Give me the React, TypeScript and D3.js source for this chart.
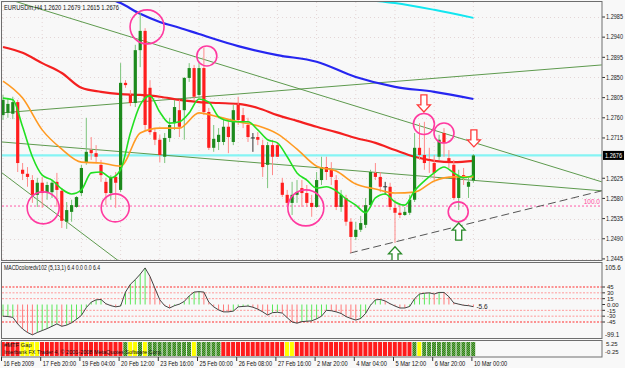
import React from "react";
import * as d3 from "d3";

const W = 625;
const H = 368;

// H4 bars, 16 Feb 2009 .. 10 Mar 2009 00:00
const opens = [
  1.2766, 1.2771, 1.2769, 1.2795, 1.2644, 1.2635, 1.2621, 1.2588, 1.2615, 1.2594,
  1.2594, 1.2617, 1.2597, 1.2528, 1.255, 1.2561, 1.2592, 1.2661, 1.2688, 1.2681,
  1.2655, 1.2617, 1.2592, 1.2628, 1.2599, 1.2838, 1.2811, 1.2793, 1.2911, 1.2954,
  1.2827, 1.2728, 1.2711, 1.2673, 1.2715, 1.2748, 1.2777, 1.2777, 1.2849, 1.2871,
  1.2811, 1.2871, 1.2773, 1.2693, 1.2706, 1.2706, 1.274, 1.2706, 1.2789, 1.2766,
  1.2744, 1.2715, 1.2717, 1.2699, 1.2655, 1.2699, 1.2699, 1.2615, 1.2588, 1.257,
  1.2588, 1.2603, 1.2592, 1.257, 1.2561, 1.2621, 1.265, 1.2644, 1.2621, 1.2561,
  1.2581, 1.2528, 1.2494, 1.251, 1.2521, 1.2565, 1.2637, 1.2628, 1.2606, 1.2606,
  1.2559, 1.2548, 1.2543, 1.2548, 1.2577, 1.2693, 1.2677, 1.2668, 1.2659, 1.2673,
  1.2726, 1.267, 1.2655, 1.2581, 1.2632, 1.2606, 1.262,
];
const highs = [
  1.2811, 1.2804, 1.2807, 1.28, 1.2659, 1.265, 1.2632, 1.2626, 1.2628, 1.2617,
  1.2621, 1.2637, 1.2603, 1.2572, 1.2577, 1.2585, 1.2655, 1.276, 1.2717, 1.2699,
  1.2666, 1.2626, 1.2632, 1.2639, 1.2882, 1.2844, 1.2822, 1.2923, 1.2994, 1.296,
  1.2844, 1.2737, 1.2722, 1.2726, 1.276, 1.28, 1.28, 1.2851, 1.2882, 1.2878,
  1.2885, 1.2916, 1.2782, 1.2744, 1.2737, 1.2755, 1.2755, 1.2789, 1.2807, 1.2782,
  1.276, 1.2726, 1.2728, 1.2711, 1.2706, 1.2711, 1.2704, 1.2626, 1.2599, 1.2617,
  1.2621, 1.2621, 1.261, 1.2588, 1.2639, 1.2673, 1.2673, 1.2661, 1.2632, 1.2599,
  1.2588, 1.2536, 1.2528, 1.2541, 1.2581, 1.2644, 1.2659, 1.2639, 1.2617, 1.2615,
  1.2577, 1.2565, 1.2561, 1.2588, 1.2726, 1.2748, 1.2751, 1.2693, 1.2677, 1.2722,
  1.2737, 1.2688, 1.2666, 1.2644, 1.2648, 1.2626, 1.2679,
];
const lows = [
  1.2755, 1.276, 1.2757, 1.2639, 1.2621, 1.2606, 1.257, 1.2561, 1.2559, 1.2577,
  1.2581, 1.2561, 1.2514, 1.2512, 1.2528, 1.2559, 1.2585, 1.2655, 1.2666, 1.2661,
  1.2617, 1.2565, 1.2577, 1.2559, 1.2594, 1.2827, 1.2786, 1.2784, 1.2873, 1.2733,
  1.2722, 1.2699, 1.2661, 1.2659, 1.2706, 1.2733, 1.2717, 1.2711, 1.284, 1.28,
  1.2804, 1.2766, 1.2688, 1.2684, 1.2688, 1.2699, 1.2681, 1.2699, 1.2744, 1.2737,
  1.2706, 1.2684, 1.2699, 1.2628, 1.2603, 1.2632, 1.2673, 1.2583, 1.2565, 1.2543,
  1.257, 1.2561, 1.2561, 1.2539, 1.2559, 1.261, 1.2621, 1.261, 1.2554, 1.255,
  1.2519, 1.2458, 1.2487, 1.2505, 1.2514, 1.2559, 1.2621, 1.2594, 1.2588, 1.2554,
  1.2481, 1.2536, 1.2541, 1.2543, 1.2572, 1.2666, 1.2644, 1.2637, 1.2621, 1.2666,
  1.2673, 1.2648, 1.2577, 1.2554, 1.261, 1.2581, 1.2615,
];
const closes = [
  1.28, 1.2791, 1.2795, 1.2659, 1.2635, 1.2628, 1.2588, 1.2615, 1.2592, 1.261,
  1.2615, 1.2599, 1.253, 1.2554, 1.2565, 1.2583, 1.2648, 1.2684, 1.2681, 1.2673,
  1.2632, 1.2592, 1.2626, 1.2615, 1.2838, 1.2833, 1.2793, 1.2911, 1.2954, 1.2744,
  1.2728, 1.2711, 1.2677, 1.2715, 1.2744, 1.2784, 1.274, 1.2849, 1.2871, 1.2807,
  1.2871, 1.2773, 1.2693, 1.2713, 1.2722, 1.274, 1.2717, 1.2777, 1.2755, 1.2751,
  1.2717, 1.2715, 1.2711, 1.265, 1.2699, 1.2673, 1.2673, 1.2588, 1.257, 1.2588,
  1.2594, 1.2592, 1.257, 1.2561, 1.2621, 1.265, 1.2639, 1.2628, 1.2561, 1.2588,
  1.2528, 1.2494, 1.251, 1.2525, 1.2565, 1.2639, 1.2628, 1.2606, 1.2606, 1.2561,
  1.2548, 1.2543, 1.255, 1.2577, 1.2693, 1.2677, 1.2659, 1.2664, 1.2637, 1.2711,
  1.2704, 1.2659, 1.2581, 1.2628, 1.2626, 1.2617, 1.2676,
];

// moving averages
const greenMA = [
  1.2804, 1.28, 1.274, 1.2673, 1.2632, 1.2621, 1.2601, 1.259, 1.2599, 1.2637,
  1.2639, 1.2626, 1.2644, 1.2726, 1.2789, 1.2809, 1.2773, 1.2748, 1.2751, 1.2771,
  1.2802, 1.2795, 1.2762, 1.2753, 1.2751, 1.2751, 1.2733, 1.2711, 1.2704, 1.2673,
  1.2637, 1.2621, 1.2603, 1.2606, 1.2597, 1.2579, 1.2565, 1.2548, 1.2581, 1.259,
  1.2572, 1.2565, 1.2597, 1.2619, 1.2637, 1.265, 1.2637, 1.2626, 1.2632,
];
const orangeMA = [
  1.2842, 1.2804, 1.2733, 1.269, 1.2661, 1.2659, 1.2652, 1.2726, 1.2737, 1.2737,
  1.2771, 1.2762, 1.2751, 1.2742, 1.2724, 1.269, 1.2652, 1.2641, 1.2612, 1.2601,
  1.2592, 1.2594, 1.2619, 1.2628, 1.2628,
];
const redMA = [
  1.2918, 1.2905, 1.2882, 1.286, 1.2827, 1.2818, 1.2813, 1.2811, 1.2807, 1.28,
  1.2795, 1.2793, 1.2791, 1.2782, 1.2766, 1.2753, 1.274, 1.2728, 1.2715, 1.2704,
  1.2688, 1.2673, 1.2664, 1.2661, 1.2664,
];
const blueBars = [22, 24, 28, 32, 36, 40, 48, 56, 64, 72, 80, 88, 96];
const blueMA = [1.3025, 1.3016, 1.2992, 1.2974, 1.2961, 1.2947, 1.292, 1.29, 1.2885, 1.2851, 1.2829, 1.2818, 1.2802];
const cyanBars = [76, 80, 88, 96];
const cyanMA = [1.3021, 1.3016, 1.3001, 1.2983];

// drawn objects (bar index, price)
const trendLines = [
  [[-0.2, 1.3029], [122.2, 1.2617]],
  [[-0.2, 1.2771], [122.2, 1.2878]],
  [[-0.2, 1.2706], [122.2, 1.2597]],
  [[-0.2, 1.2637], [23.9, 1.2438]],
];
const supportLine = [[70.8, 1.2458], [122.2, 1.2597]];
const circleBars = [29.4, 41.6, 8.2, 22.9, 61.8, 85.9, 90, 92.9];
const circlePrices = [1.2963, 1.2898, 1.2559, 1.2559, 1.2559, 1.2746, 1.2726, 1.255];
const circleRadii = [17, 10, 16, 14, 18, 10.5, 10, 10];
const downArrowBars = [85.9, 96.1];
const downArrowPrices = [1.2773, 1.2695];
const upArrowBars = [80, 93];
const upArrowPrices = [1.2472, 1.2525];

const priceTicks = [1.2985, 1.294, 1.2895, 1.285, 1.2805, 1.276, 1.2715, 1.2625, 1.258, 1.2535, 1.249, 1.2445];
const lastPrice = 1.2676;
const fibLevel = 1.2563;

const timeLabels = [
  "16 Feb 2009", "17 Feb 20:00", "19 Feb 04:00", "20 Feb 12:00", "23 Feb 16:00",
  "25 Feb 00:00", "26 Feb 08:00", "27 Feb 16:00", "2 Mar 20:00", "4 Mar 04:00",
  "5 Mar 12:00", "6 Mar 20:00", "10 Mar 00:00",
];

const macd = [
  -30, -31, -33, -50, -63, -72, -78, -72, -67, -62,
  -56, -50, -56, -53, -47, -38, -28, -8, 6, 12,
  13, 2, -3, -6, -4, 32, 52, 64, 78, 94,
  72, 42, 12, -3, -9, -3, 1, 8, 22, 32,
  33, 32, 6, -6, -14, -19, -19, -17, -6, -5,
  -4, -7, -12, -19, -27, -21, -20, -22, -34, -45,
  -48, -44, -43, -42, -37, -30, -15, -16, -19, -23,
  -31, -36, -40, -36, -23, -2, 12, 13, 9, 2,
  -4, -9, -9, -5, 15, 27, 29, 30, 27, 31,
  31, 20, 4, 1, -2, -3, -5.6,
];
const macdLevels = [45, 30, 15, -15, -30, -45];

const gapColors =
  "rrrr" + "yyyy" + "rrrrrrrrrrrrrrrrr" + "g" + "yy" + "g" + "y" + "ggggggggg" + "y" +
  "ggggg" + "rrrrrrrrrrrrr" + "yy" + "rrrrrrrrrrrrrrrrrrrrrrrr" + "g" + "y" + "ggggggggggg";

const FONT = "Liberation Sans, Arial, sans-serif";

export default function App() {
  const x = d3.scaleLinear().domain([0, 96]).range([3, 473.4]);
  const yP = d3.scaleLinear().domain([1.2445, 1.2985]).range([258.9, 17]);
  const yM = d3.scaleLinear().domain([-45, 45]).range([322, 287]);

  const maLine = (bars: number[]) =>
    d3
      .line<number>()
      .x((_, k) => x(bars[k]))
      .y((v) => yP(v))
      .curve(d3.curveMonotoneX);

  const bars2 = d3.range(0, 97, 2);
  const bars4 = d3.range(0, 97, 4);
  const labelBars = d3.range(0, 97, 8);

  const macdPath = d3
    .line<number>()
    .x((_, i) => x(i))
    .y((v) => yM(v))(macd);

  const arrowDown = (cx: number, ty: number) =>
    `M${cx - 3},${ty - 17} L${cx + 3},${ty - 17} L${cx + 3},${ty - 7} L${cx + 6.5},${ty - 7} L${cx},${ty} L${cx - 6.5},${ty - 7} L${cx - 3},${ty - 7} Z`;
  const arrowUp = (cx: number, ty: number) =>
    `M${cx - 3},${ty + 17} L${cx + 3},${ty + 17} L${cx + 3},${ty + 7} L${cx + 6.5},${ty + 7} L${cx},${ty} L${cx - 6.5},${ty + 7} L${cx - 3},${ty + 7} Z`;

  const gapFill: Record<string, string> = { r: "#ff1c1c", y: "#ffff00", g: "url(#hatch)" };

  return (
    <div style={{ position: "absolute", left: 0, top: 0 }}>
      <svg width={W} height={H} style={{ display: "block", background: "#f8f8f8" }} fontFamily={FONT}>
        <defs>
          <clipPath id="mainClip">
            <rect x={2} y={2} width={600} height={258} />
          </clipPath>
          <clipPath id="macdClip">
            <rect x={2} y={263} width={600} height={75} />
          </clipPath>
          <pattern id="hatch" width={2} height={2} patternUnits="userSpaceOnUse">
            <rect width={2} height={2} fill="#2f7a22" />
            <rect width={1} height={1} fill="#6bb04a" />
            <rect x={1} y={1} width={1} height={1} fill="#6bb04a" />
          </pattern>
        </defs>

        {/* grid */}
        <g stroke="#e4d6d6" strokeDasharray="1 3" strokeWidth={1}>
          {priceTicks.map((t) => (
            <line key={t} x1={2} x2={602} y1={Math.round(yP(t)) + 0.5} y2={Math.round(yP(t)) + 0.5} />
          ))}
          {labelBars.map((b) => (
            <line key={b} x1={x(b)} x2={x(b)} y1={2} y2={260} />
          ))}
        </g>

        {/* main panel */}
        <g clipPath="url(#mainClip)">
          <line x1={2} x2={602} y1={yP(lastPrice)} y2={yP(lastPrice)} stroke="#86f4f4" strokeWidth={2.2} />
          <line x1={2} x2={602} y1={yP(fibLevel)} y2={yP(fibLevel)} stroke="#ff5aa8" strokeWidth={1} strokeDasharray="2 2" />
          {trendLines.map((tl, k) => (
            <line key={k} x1={x(tl[0][0])} y1={yP(tl[0][1])} x2={x(tl[1][0])} y2={yP(tl[1][1])} stroke="#5e9a4e" strokeWidth={1} />
          ))}
          <line
            x1={x(supportLine[0][0])}
            y1={yP(supportLine[0][1])}
            x2={x(supportLine[1][0])}
            y2={yP(supportLine[1][1])}
            stroke="#555"
            strokeWidth={1}
            strokeDasharray="8 4"
          />
          <path d={maLine(cyanBars)(cyanMA) || ""} fill="none" stroke="#12e6f0" strokeWidth={2} />
          <path d={maLine(blueBars)(blueMA) || ""} fill="none" stroke="#2626f0" strokeWidth={2.2} />
          <path d={maLine(bars4)(redMA) || ""} fill="none" stroke="#f42020" strokeWidth={2.2} />

          {opens.map((o, i) => {
            const c = closes[i];
            const cx = x(i);
            const up = c > o;
            const flat = c === o;
            const top = yP(Math.max(o, c));
            const bot = yP(Math.min(o, c));
            return (
              <g key={i}>
                <line
                  x1={cx}
                  x2={cx}
                  y1={yP(highs[i])}
                  y2={yP(lows[i])}
                  stroke={flat ? "#333" : up ? "#7cc47c" : "#ff8a8a"}
                  strokeWidth={1}
                />
                {flat ? (
                  <line x1={cx - 2} x2={cx + 2} y1={top} y2={top} stroke="#333" />
                ) : (
                  <rect x={cx - 1.6} y={top} width={3.2} height={Math.max(1, bot - top)} fill={up ? "#1d8a1d" : "#ff1e1e"} />
                )}
              </g>
            );
          })}

          <path d={maLine(bars4)(orangeMA) || ""} fill="none" stroke="#ff9a22" strokeWidth={1.6} />
          <path d={maLine(bars2)(greenMA) || ""} fill="none" stroke="#22e022" strokeWidth={1.6} />

          {circleBars.map((b, k) => (
            <circle key={k} cx={x(b)} cy={yP(circlePrices[k])} r={circleRadii[k]} fill="none" stroke="#ff3aa0" strokeWidth={1.6} />
          ))}
          {downArrowBars.map((b, k) => (
            <path key={k} d={arrowDown(x(b), yP(downArrowPrices[k]))} fill="#fff" stroke="#ff3a3a" strokeWidth={1.3} />
          ))}
          {upArrowBars.map((b, k) => (
            <path key={k} d={arrowUp(x(b), yP(upArrowPrices[k]))} fill="#fff" stroke="#2a8a2a" strokeWidth={1.3} />
          ))}
          <text x={600} y={yP(fibLevel) - 2} fontSize={6.5} fill="#ff4aa0" textAnchor="end">
            100.0
          </text>
        </g>

        <text x={4} y={10} fontSize={7.2} fill="#111" textLength={115} lengthAdjust="spacingAndGlyphs">
          EURUSDm,H4 1.2620 1.2679 1.2615 1.2676
        </text>

        {/* price axis */}
        {priceTicks.map((t) => (
          <g key={t}>
            <line x1={602} x2={605} y1={yP(t)} y2={yP(t)} stroke="#333" />
            <text x={606} y={yP(t) + 2.3} fontSize={6.3} fill="#222" textLength={17} lengthAdjust="spacingAndGlyphs">
              {t.toFixed(4)}
            </text>
          </g>
        ))}
        <rect x={603} y={yP(lastPrice) - 4.5} width={21} height={9} fill="#000" />
        <text x={605} y={yP(lastPrice) + 2.3} fontSize={6.3} fill="#fff" textLength={17} lengthAdjust="spacingAndGlyphs">
          {lastPrice.toFixed(4)}
        </text>

        {/* MACD panel */}
        <g clipPath="url(#macdClip)">
          {macdLevels.map((l) => (
            <line
              key={l}
              x1={2}
              x2={602}
              y1={yM(l)}
              y2={yM(l)}
              stroke={Math.abs(l) === 45 ? "#ff2c2c" : "#ff9a9a"}
              strokeDasharray="2 1.5"
              strokeWidth={1}
            />
          ))}
          {macd.map((v, i) => (
            <line
              key={i}
              x1={x(i)}
              x2={x(i)}
              y1={yM(0)}
              y2={yM(v)}
              stroke={i < 3 || v > macd[i - 1] ? "#5ae85a" : "#ff7a7a"}
              strokeWidth={1}
            />
          ))}
          <path d={macdPath || ""} fill="none" stroke="#444" strokeWidth={1} />
        </g>
        <text x={4} y={270} fontSize={6.8} fill="#111" textLength={96} lengthAdjust="spacingAndGlyphs">
          MACDcoloredv102 (5,13,1) 6.4 0.0 0.0 6.4
        </text>
        <text x={x(96) + 3} y={yM(-5.6) + 2.5} fontSize={6.5} fill="#222">
          -5.6
        </text>
        {[...macdLevels, 0].map((l) => (
          <g key={l}>
            <line x1={602} x2={605} y1={yM(l)} y2={yM(l)} stroke="#333" />
            <text x={607} y={yM(l) + 2.2} fontSize={6} fill="#222">
              {l === 0 ? "0.00" : String(l)}
            </text>
          </g>
        ))}
        <text x={605} y={270} fontSize={6.3} fill="#222">105.6</text>
        <text x={605} y={337} fontSize={6.3} fill="#222">-99.1</text>

        {/* gap panel */}
        {gapColors.split("").map((c, i) => (
          <rect key={i} x={x(i) - 2.2} y={342} width={4} height={14} fill={gapFill[c]} />
        ))}
        <text x={4} y={347} fontSize={5.8} fill="#111">#MTF Gap</text>
        <text x={4} y={353.5} fontSize={5.8} fill="#111" textLength={158} lengthAdjust="spacingAndGlyphs">
          Interbank FX Trader 4, © 2001-2008 MetaQuotes Software Corp.
        </text>
        <text x={606} y={346} fontSize={6} fill="#222">5.25</text>
        <text x={605} y={354} fontSize={6} fill="#222">-0.25</text>

        {/* panel frames */}
        <g fill="none" stroke="#6e6e6e" strokeWidth={1}>
          <rect x={1.5} y={1.5} width={600.5} height={259} />
          <rect x={1.5} y={262.5} width={600.5} height={76} />
          <rect x={1.5} y={340.5} width={600.5} height={16.5} />
        </g>

        {/* time axis */}
        {timeLabels.map((lab, k) => (
          <g key={lab}>
            <line x1={x(labelBars[k]) - 1.5} x2={x(labelBars[k]) - 1.5} y1={357} y2={361} stroke="#333" />
            <text
              x={x(labelBars[k]) + 0.5}
              y={365.5}
              fontSize={6.6}
              fill="#111"
              textLength={lab.length * 2.78}
              lengthAdjust="spacingAndGlyphs"
            >
              {lab}
            </text>
          </g>
        ))}
      </svg>
    </div>
  );
}
